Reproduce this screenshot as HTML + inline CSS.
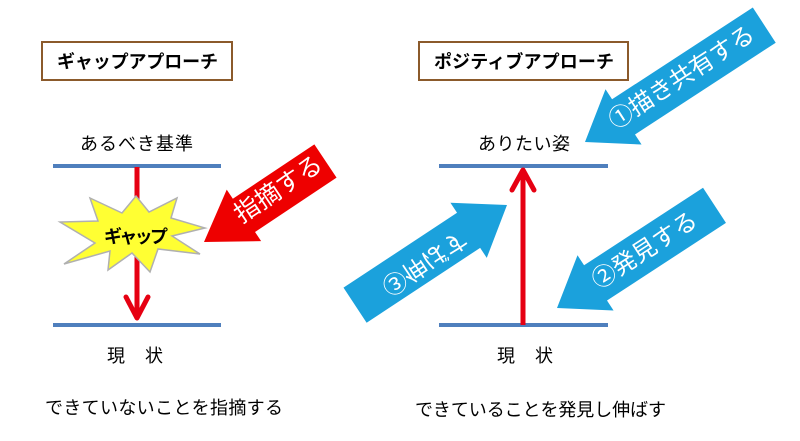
<!DOCTYPE html>
<html><head><meta charset="utf-8"><style>
html,body{margin:0;padding:0;background:#fff;}
svg{display:block;font-family:"Liberation Sans","Noto Sans CJK JP",sans-serif;}
</style></head><body>
<svg width="800" height="441" viewBox="0 0 800 441" xmlns="http://www.w3.org/2000/svg">
<rect width="800" height="441" fill="#fff"/>
<rect x="42" y="42" width="190" height="38" fill="#fff" stroke="#8b5a2b" stroke-width="2"/>
<text x="57" y="68" font-size="18" font-weight="bold" textLength="161" fill="#000">ギャップアプローチ</text>
<rect x="419" y="42" width="209" height="38" fill="#fff" stroke="#8b5a2b" stroke-width="2"/>
<text x="434" y="68" font-size="18" font-weight="bold" textLength="180" fill="#000">ポジティブアプローチ</text>

<text x="80" y="150" font-size="18" textLength="113">あるべき基準</text>
<text x="478" y="150" font-size="18" textLength="92">ありたい姿</text>

<g stroke="#4f7fbd" stroke-width="4">
<line x1="53" y1="166" x2="221" y2="166"/>
<line x1="53" y1="325" x2="221" y2="325"/>
<line x1="439" y1="166" x2="608" y2="166"/>
<line x1="439" y1="325" x2="608" y2="325"/>
</g>

<line x1="137" y1="167" x2="137" y2="318" stroke="#e60012" stroke-width="5"/>
<polyline points="126,297 137,318 148,297" fill="none" stroke="#e60012" stroke-width="5" stroke-linecap="round" stroke-linejoin="round"/>

<polygon points="205,228 172,236 200,254 158,249 150,272 132,253 108,270 110,251 64,264 95,243 60,222 98,221 90,198 122,213 136,196 149,212 177,198 171,218" fill="#ffff33" stroke="#b0b0b0" stroke-width="1.5"/>
<text x="104" y="243" font-size="18" font-weight="bold" textLength="64">ギャップ</text>

<line x1="523" y1="325" x2="523" y2="174" stroke="#e60012" stroke-width="5"/>
<polyline points="512,190 523,170 534,190" fill="none" stroke="#e60012" stroke-width="5" stroke-linecap="round" stroke-linejoin="round"/>

<g transform="translate(204,242) rotate(146.3)">
<polygon points="0,0 -48,-31 -48,-20 -146,-20 -146,20 -48,20 -48,31" fill="#ee0000"/>
</g>
<text transform="translate(283,196) rotate(-33.7)" font-size="25" fill="#fff" text-anchor="middle">指摘する</text>

<g transform="translate(585,142) rotate(146.9)">
<polygon points="0,0 -46,-33 -46,-21 -214,-21 -214,21 -46,21 -46,33" fill="#1ba1dc"/>
</g>
<text transform="translate(686,84) rotate(-33)" font-size="24" fill="#fff" text-anchor="middle">①描き共有する</text>

<g transform="translate(557,308) rotate(146.9)">
<polygon points="0,0 -46,-33 -46,-21 -188,-21 -188,21 -46,21 -46,33" fill="#1ba1dc"/>
</g>
<text transform="translate(649,257) rotate(-33)" font-size="24" fill="#fff" text-anchor="middle">②発見する</text>

<g transform="translate(507,205) rotate(-33.4)">
<polygon points="0,0 -46,-33 -46,-21 -182,-21 -182,21 -46,21 -46,33" fill="#1ba1dc"/>
</g>
<text transform="translate(420,256) rotate(-33.4) scale(1,-1)" font-size="24" fill="#fff" text-anchor="middle">③伸ばす</text>

<text x="107" y="362" font-size="18" textLength="56">現　状</text>
<text x="497" y="362" font-size="18" textLength="56">現　状</text>
<text x="45" y="414" font-size="18" textLength="238">できていないことを指摘する</text>
<text x="415" y="416" font-size="18" textLength="251">できていることを発見し伸ばす</text>
</svg>
</body></html>
